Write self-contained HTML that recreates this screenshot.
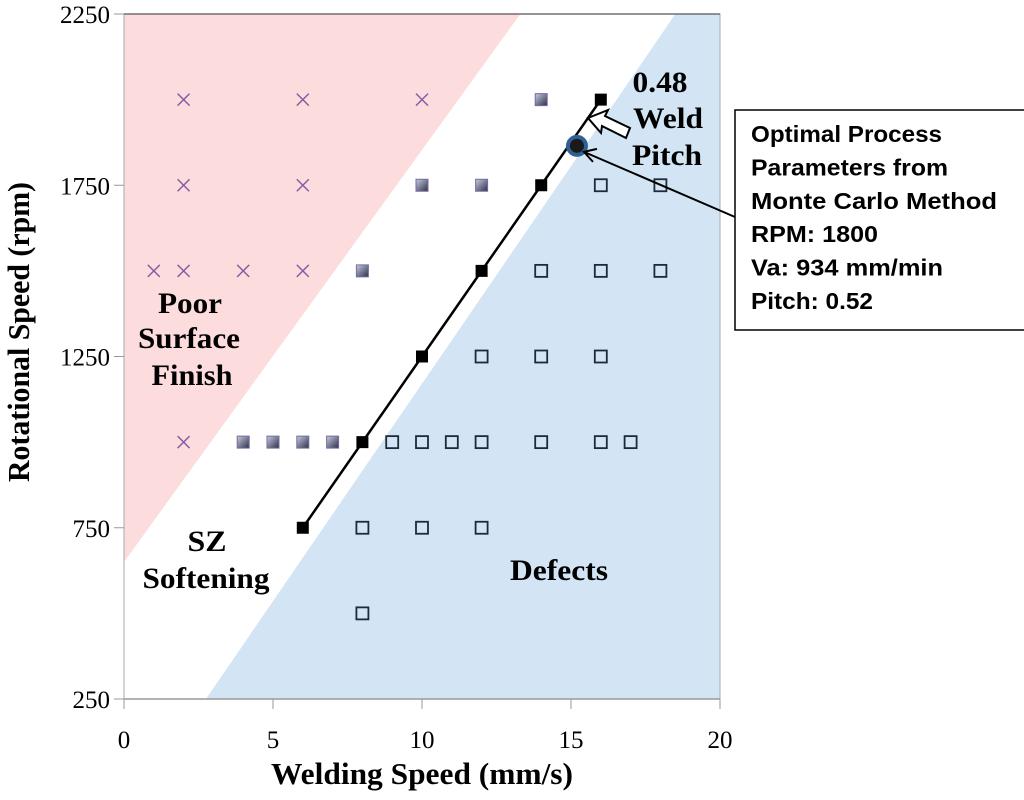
<!DOCTYPE html>
<html><head><meta charset="utf-8"><style>
body{margin:0;background:#fff;}
svg text{font-family:"Liberation Serif",serif;}
</style></head><body>
<svg id="chart" width="1024" height="795" viewBox="0 0 1024 795" xmlns="http://www.w3.org/2000/svg">
<defs>
<linearGradient id="gsq" x1="0" y1="0" x2="1" y2="1"><stop offset="0" stop-color="#c8cce0"/><stop offset="1" stop-color="#2a3048"/></linearGradient>
</defs>
<g id="regions"></g>
<g id="axes"></g>
<g id="marks"></g>
<g id="labels"></g>
</svg>
<script>
const crossX=[2,6,10,2,6,1,2,4,6,2];
const crossY=[2000,2000,2000,1750,1750,1500,1500,1500,1500,1000];
const gradX=[14,10,12,8,4,5,6,7];
const gradY=[2000,1750,1750,1500,1000,1000,1000,1000];
const lineX=[6,8,10,12,14,16];
const lineY=[750,1000,1250,1500,1750,2000];
const openX=[16,18,14,16,18,12,14,16,9,10,11,12,14,16,17,8,10,12,8];
const openY=[1750,1750,1500,1500,1500,1250,1250,1250,1000,1000,1000,1000,1000,1000,1000,750,750,750,500];
const optX=[15.2];const optY=[1865];
const xTicks=[0,5,10,15,20];
const yTicks=[250,750,1250,1750,2250];
const L=124,R=720,T=14,B=699;
const sx=v=>L+(v-0)/(20-0)*(R-L);
const sy=v=>B-(v-250)/(2250-250)*(B-T);
const NS="http://www.w3.org/2000/svg";
function mk(tag,attrs,parent){const e=document.createElementNS(NS,tag);for(const k in attrs)e.setAttribute(k,attrs[k]);document.getElementById(parent).appendChild(e);return e;}
let e=mk('polygon',{points:`${L},${T} ${sx(13.3)},${T} ${L},${sy(650)}`,fill:'#fcdcdc'},'regions');


e=mk('polygon',{points:`${sx(18.5)},${T} ${R},${T} ${R},${B} ${sx(2.75)},${B}`,fill:'#d3e5f4'},'regions');


e=mk('rect',{x:L,y:T,width:R-L,height:B-T,fill:'none',stroke:'#aaa','stroke-width':1},'axes');


mk('line',{x1:L,y1:T,x2:R,y2:T,stroke:'#555','stroke-width':1.2},'axes');
mk('line',{x1:L,y1:B,x2:R,y2:B,stroke:'#999','stroke-width':1.5},'axes');
xTicks.forEach(v=>{mk('line',{x1:sx(v),y1:B,x2:sx(v),y2:B+10,stroke:'#999'},'axes');
 const t=mk('text',{x:sx(v),y:B+49,'font-size':25,'text-anchor':'middle'},'axes');t.textContent=v;
 
 });
yTicks.forEach(v=>{mk('line',{x1:L-10,y1:sy(v),x2:L,y2:sy(v),stroke:'#999'},'axes');
 const t=mk('text',{x:L-14,y:sy(v)+9,'font-size':25,'text-anchor':'end'},'axes');t.textContent=v;
 
 });
e=mk('text',{x:422,y:784,'font-size':31,'font-weight':'bold','text-anchor':'middle',textLength:302,lengthAdjust:'spacingAndGlyphs'},'axes');e.textContent='Welding Speed (mm/s)';


e=mk('text',{x:29,y:332,'font-size':31,'font-weight':'bold','text-anchor':'middle',textLength:300,lengthAdjust:'spacingAndGlyphs',transform:'rotate(-90 29 332)'},'axes');e.textContent='Rotational Speed (rpm)';


crossX.forEach((x,i)=>{const cx=sx(x),cy=sy(crossY[i]);
 e=mk('path',{d:`M${cx-6} ${cy-6}L${cx+6} ${cy+6}M${cx+6} ${cy-6}L${cx-6} ${cy+6}`,stroke:'#8a5aa8','stroke-width':1.5},'marks');
 
 });
gradX.forEach((x,i)=>{e=mk('rect',{x:sx(x)-6,y:sy(gradY[i])-6,width:12,height:12,fill:'url(#gsq)',stroke:'#7a6aa0','stroke-width':1},'marks');
 
 });
openX.forEach((x,i)=>{e=mk('rect',{x:sx(x)-6,y:sy(openY[i])-6,width:12,height:12,fill:'none',stroke:'#1c2a3a','stroke-width':1.8},'marks');
 
 });
e=mk('polyline',{points:lineX.map((x,i)=>sx(x)+','+sy(lineY[i])).join(' '),fill:'none',stroke:'#000','stroke-width':2.5},'marks');


lineX.forEach((x,i)=>{e=mk('rect',{x:sx(x)-6,y:sy(lineY[i])-6,width:12,height:12,fill:'#000'},'marks');
 
 });
const ox=sx(optX[0]),oy=sy(optY[0]);
e=mk('circle',{cx:ox,cy:oy,r:9,fill:'#1a1a1a',stroke:'#2f5f95','stroke-width':4},'marks');


e=mk('path',{d:`M735 217 L${ox+7} ${oy+6} M${ox+20} ${oy+3} L${ox+7} ${oy+6} L${ox+16} ${oy+16}`,fill:'none',stroke:'#000','stroke-width':2},'labels');


e=mk('path',{d:'M630 128 L605 116 L608 110 L588 118 L601 133 L602 126 L626 138 Z',fill:'#fff',stroke:'#000','stroke-width':2},'labels');


e=mk('rect',{x:735,y:110,width:290,height:220,fill:'#fff',stroke:'#000','stroke-width':1.5},'labels');


[['Optimal Process',191],['Parameters from',197],['Monte Carlo Method',246],['RPM: 1800',127],['Va: 934 mm/min',192],['Pitch: 0.52',122]].forEach((s,i)=>{
 const t=mk('text',{x:751,y:142+i*33.4,'font-size':23,'font-weight':'bold',textLength:s[1],lengthAdjust:'spacingAndGlyphs',style:'font-family:"Liberation Sans",sans-serif'},'labels');t.textContent=s[0];
 
 });
function lab(items,name){items.forEach(s=>{const t=mk('text',{x:s[1],y:s[2],'font-size':30,'font-weight':'bold','text-anchor':'middle',textLength:s[3],lengthAdjust:'spacingAndGlyphs'},'labels');t.textContent=s[0];
 
 });}
lab([['Poor',190,313,64],['Surface',189,348,102],['Finish',192,385,81]],'poor-surface-label');
lab([['SZ',207,551,39],['Softening',206,588,127]],'sz-softening-label');
lab([['Defects',559,580,98]],'defects-label');
lab([['0.48',660,92,55],['Weld',668,128,70],['Pitch',667,165,70]],'weld-pitch-label');
</script>
</body></html>
